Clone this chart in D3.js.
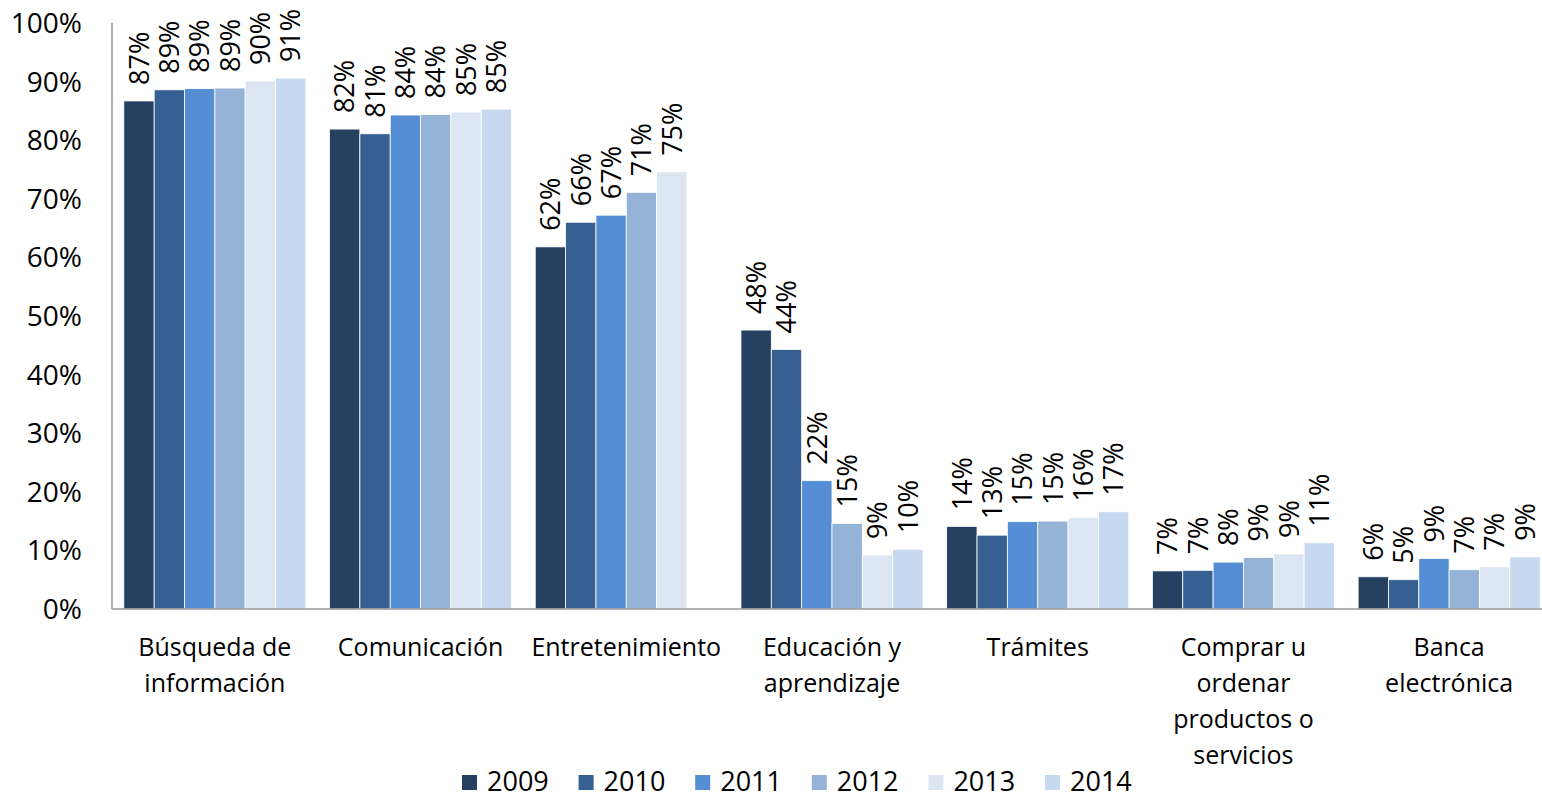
<!DOCTYPE html>
<meta charset="utf-8">
<title>Usos de internet</title>
<style>
body { margin: 0; background: #fff; }
text { font-family: "Open Sans", sans-serif; fill: #000; }
.tick-label { font-size: 28px; text-anchor: end; }
.cat-label { font-size: 25px; text-anchor: middle; }
.val-label { font-size: 27px; }
.legend text { font-size: 27px; }
</style>
<svg width="1542" height="796"></svg>
<script src="https://d3js.org/d3.v7.min.js"></script>
<script>

// categories, with line breaks as in the original
var categories = ["Búsqueda de\ninformación", "Comunicación", "Entretenimiento", "Educación y\naprendizaje",
                  "Trámites", "Comprar u\nordenar\nproductos o\nservicios", "Banca\nelectrónica"];
var years = ["2009", "2010", "2011", "2012", "2013", "2014"];
var colors = ["#254061", "#376092", "#558ed5", "#95b3d7", "#dce6f2", "#c6d9f1"];

// percent per category, one array per year (null = no bar)
var v2009 = [86.7, 81.9, 61.8, 47.6, 14.1, 6.5, 5.5];
var v2010 = [88.6, 81.1, 66.0, 44.3, 12.6, 6.6, 5.0];
var v2011 = [88.8, 84.3, 67.2, 21.9, 14.9, 8.0, 8.6];
var v2012 = [88.9, 84.4, 71.1, 14.6, 15.0, 8.8, 6.7];
var v2013 = [90.1, 84.8, 74.6, 9.2, 15.6, 9.4, 7.2];
var v2014 = [90.6, 85.3, null, 10.2, 16.6, 11.3, 8.9];
var series = [v2009, v2010, v2011, v2012, v2013, v2014];

var yTicks = [0, 10, 20, 30, 40, 50, 60, 70, 80, 90, 100];

var svg = d3.select("svg");
var mLeft = 112, mRight = 1552, mTop = 23, mBottom = 609;

var x0 = d3.scaleBand()
    .domain(categories)
    .range([mLeft, mRight])
    .paddingInner(0.115)
    .paddingOuter(0.0575);

var x1 = d3.scaleBand()
    .domain(years)
    .range([0, x0.bandwidth()]);

var y = d3.scaleLinear()
    .domain([0, 100])
    .range([mBottom, mTop]);

// y tick labels
svg.selectAll(".tick-label")
  .data(yTicks)
  .enter().append("text")
    .attr("class", "tick-label")
    .attr("x", 82)
    .attr("y", function(d) { return y(d); })
    .attr("dy", "0.36em")
    .text(function(d) { return d + "%"; });

// bars
var groups = svg.selectAll(".year")
  .data(series)
  .enter().append("g")
    .attr("class", "year")
    .attr("fill", function(d, i) { return colors[i]; });

var cells = function(s, i) {
  return s.map(function(v, j) { return { cat: categories[j], year: years[i], value: v }; })
          .filter(function(d) { return d.value !== null; });
};

groups.selectAll("rect")
  .data(cells)
  .enter().append("rect")
    .attr("x", function(d) { return x0(d.cat) + x1(d.year); })
    .attr("y", function(d) { return y(d.value); })
    .attr("width", x1.bandwidth())
    .attr("height", function(d) { return y(0) - y(d.value); })
    .attr("stroke", "#fff")
    .attr("stroke-width", 0.8);

// value labels, rotated
groups.selectAll(".val-label")
  .data(cells)
  .enter().append("text")
    .attr("class", "val-label")
    .attr("fill", "#000")
    .attr("transform", function(d) {
      var cx = x0(d.cat) + x1(d.year) + x1.bandwidth() / 2;
      return "translate(" + cx + "," + (y(d.value) - 16) + ") rotate(-90)";
    })
    .attr("dy", "0.36em")
    .text(function(d) { return Math.round(d.value) + "%"; });

// axes lines
svg.append("line")
    .attr("x1", mLeft).attr("x2", mLeft)
    .attr("y1", mTop).attr("y2", mBottom)
    .attr("stroke", "#979797").attr("stroke-width", 1.5);
svg.append("line")
    .attr("x1", mLeft).attr("x2", 1542)
    .attr("y1", mBottom).attr("y2", mBottom)
    .attr("stroke", "#979797").attr("stroke-width", 1.5);

// category labels
var cat = svg.selectAll(".cat-label")
  .data(categories)
  .enter().append("text")
    .attr("class", "cat-label")
    .attr("x", function(d) { return x0(d) + x0.bandwidth() / 2; })
    .attr("y", 656);

cat.selectAll("tspan")
  .data(function(d) { return d.split("\n"); })
  .enter().append("tspan")
    .attr("x", function() { return this.parentNode.getAttribute("x"); })
    .attr("dy", function(d, i) { return i ? 36 : 0; })
    .text(function(d) { return d; });

// legend
var lx = d3.scaleBand()
    .domain(years)
    .range([462, 462 + 116.6 * 6]);

var legend = svg.append("g").attr("class", "legend")
  .selectAll("g")
  .data(years)
  .enter().append("g")
    .attr("transform", function(d) { return "translate(" + lx(d) + ",0)"; });

legend.append("rect")
    .attr("y", 775)
    .attr("width", 15)
    .attr("height", 15)
    .attr("fill", function(d, i) { return colors[i]; });

legend.append("text")
    .attr("x", 25)
    .attr("y", 781)
    .attr("dy", "0.36em")
    .text(function(d) { return d; });

</script>
